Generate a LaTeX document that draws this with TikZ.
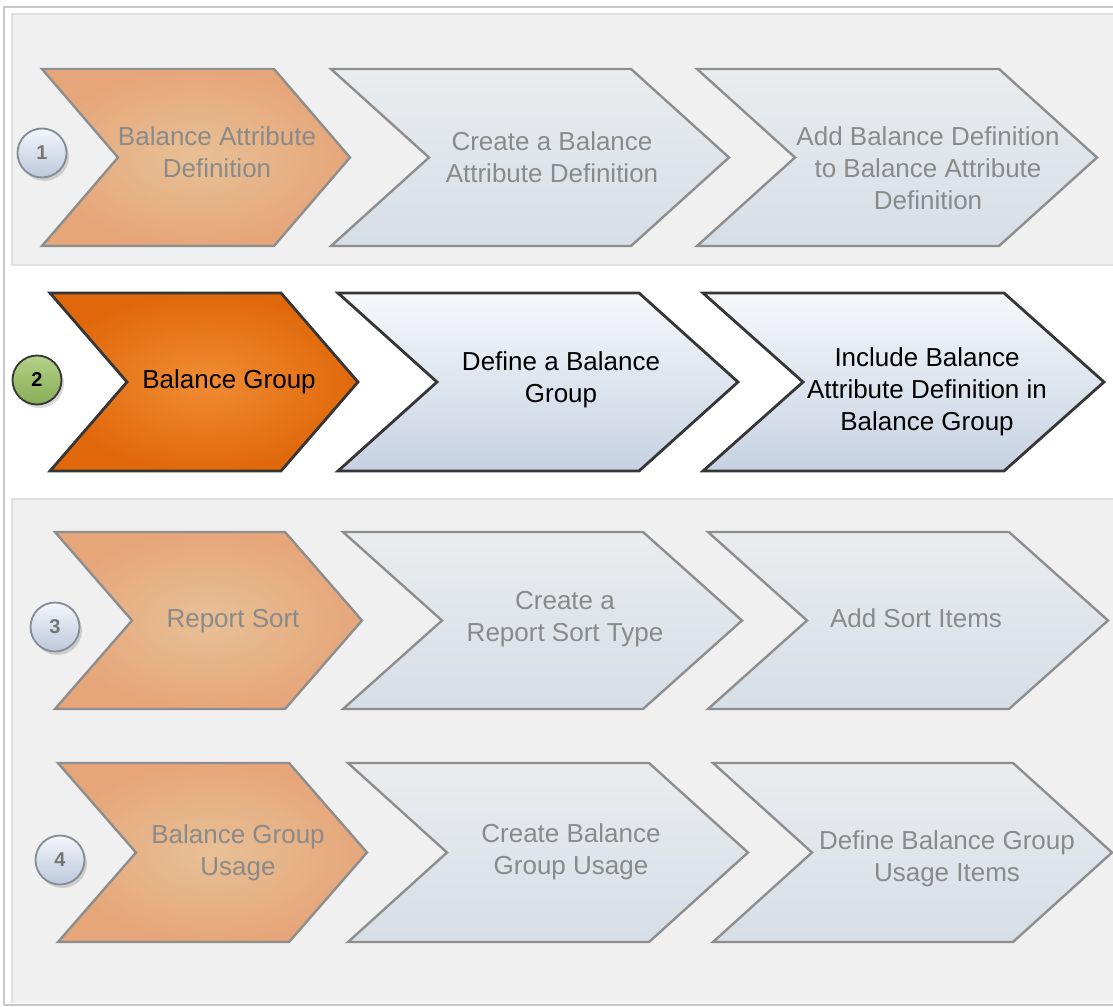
\documentclass[tikz,border=0pt]{standalone}
\usepackage{fontspec}
\setmainfont{Liberation Sans}
\usetikzlibrary{shadows}
\definecolor{frameline}{HTML}{C8C8C8}
\definecolor{panelbg}{HTML}{F0F0F0}
\definecolor{panelline}{HTML}{E0E0E0}
\definecolor{dimstroke}{HTML}{8E8E8E}
\definecolor{dimtext}{HTML}{8A8A8A}
\definecolor{dimorangeout}{HTML}{E6A67A}
\definecolor{dimorangein}{HTML}{E8C096}
\definecolor{dimbluetop}{HTML}{EAECEE}
\definecolor{dimbluebot}{HTML}{D6DEE6}
\definecolor{actstroke}{HTML}{363636}
\definecolor{actorangeout}{HTML}{E0680A}
\definecolor{actorangein}{HTML}{F08C34}
\definecolor{actbluetop}{HTML}{F6F8FA}
\definecolor{actbluebot}{HTML}{C6D2E2}
\definecolor{circtop}{HTML}{F4F6FA}
\definecolor{circbot}{HTML}{BCC8DC}
\definecolor{circline}{HTML}{848C96}
\definecolor{greentop}{HTML}{B4D088}
\definecolor{greenbot}{HTML}{86AE56}
\newcommand\chev[6]{% style, x, ytop, ybot, width, depth
  \path[#1] (#2,#3) -- ({#2+#5-#6},#3) -- ({#2+#5},{(#3+#4)/2}) -- ({#2+#5-#6},#4) -- (#2,#4) -- ({#2+#6},{(#3+#4)/2}) -- cycle;}
\tikzset{
  dimorange/.style={draw=dimstroke, line width=2.4pt, line join=miter, inner color=dimorangein, outer color=dimorangeout},
  dimblue/.style={draw=dimstroke, line width=2.4pt, line join=miter, top color=dimbluetop, bottom color=dimbluebot},
  actorange/.style={draw=actstroke, line width=2.8pt, line join=miter, inner color=actorangein, outer color=actorangeout},
  actblue/.style={draw=actstroke, line width=2.8pt, line join=miter, top color=actbluetop, bottom color=actbluebot},
  lbl/.style={align=center, inner sep=0pt, font=\fontsize{26}{32}\selectfont},
  dimlbl/.style={lbl, text=dimtext},
  actlbl/.style={lbl, text=black},
  numc/.style={circle, minimum size=49pt, inner sep=0pt, line width=1.8pt, draw=circline,
    top color=circtop, bottom color=circbot, text=dimtext!85!black, font=\bfseries\fontsize{20}{22}\selectfont,
    drop shadow={shadow xshift=2.5pt, shadow yshift=-3.5pt, opacity=0.25, fill=black!60}},
  numact/.style={numc, draw=actstroke, top color=greentop, bottom color=greenbot, text=black}
}
\begin{document}
\begin{tikzpicture}[x=1pt, y=-1pt]
\useasboundingbox (0,0) rectangle (1113,1006);
\fill[white] (0,0) rectangle (1113,1006);
% panels
\fill[panelbg] (11,13) rectangle (1113,265);
\draw[panelline, line width=1.5pt] (1113,14) -- (12,14) -- (12,265) -- (1113,265);
\fill[panelbg] (11,499) rectangle (1113,1003);
\draw[panelline, line width=1.5pt] (1113,499) -- (12,499) -- (12,1003);
\draw[frameline, line width=2pt] (4,1005) -- (4,7) -- (1113,7);
\draw[frameline, line width=1.2pt] (4,1005) -- (1113,1005);
% row 1
\chev{dimorange}{42}{69}{246}{308}{76}
\chev{dimblue}{331}{69}{246}{398}{98}
\chev{dimblue}{697}{69}{246}{400}{98}
\node[numc] (n1) at (42,153) {1};
\node[dimlbl] (t11) at (217,152) {Balance Attribute\\Definition};
\node[dimlbl] (t12) at (552,157) {Create a Balance\\Attribute Definition};
\node[dimlbl] (t13) at (928,168) {Add Balance Definition\\to Balance Attribute\\Definition};
% row 2
\chev{actorange}{50}{293}{471}{308}{77}
\chev{actblue}{338}{293}{471}{400}{99}
\chev{actblue}{703}{293}{471}{401}{100}
\node[numact] (n2) at (37,380) {2};
\node[actlbl] (t21) at (229,382) {Balance Group};
\node[actlbl] (t22) at (561,380) {Define a Balance\\Group};
\node[actlbl] (t23) at (927,392) {Include Balance\\Attribute Definition in\\Balance Group};
% row 3
\chev{dimorange}{55}{532}{709}{307}{77}
\chev{dimblue}{343}{532}{709}{399}{99}
\chev{dimblue}{708}{532}{709}{400}{99}
\node[numc] (n3) at (55,627) {3};
\node[dimlbl] (t31) at (233,621) {Report Sort};
\node[dimlbl] (t32) at (565,619) {Create a\\Report Sort Type};
\node[dimlbl] (t33) at (916,618) {Add Sort Items};
% row 4
\chev{dimorange}{58}{763}{942}{309}{78}
\chev{dimblue}{348}{763}{942}{400}{99}
\chev{dimblue}{713}{763}{942}{399}{99}
\node[numc] (n4) at (60,860) {4};
\node[dimlbl] (t41) at (238,853) {Balance Group\\Usage};
\node[dimlbl] (t42) at (571,852) {Create Balance\\Group Usage};
\node[dimlbl] (t43) at (947,859) {Define Balance Group\\Usage Items};
\end{tikzpicture}
\end{document}
